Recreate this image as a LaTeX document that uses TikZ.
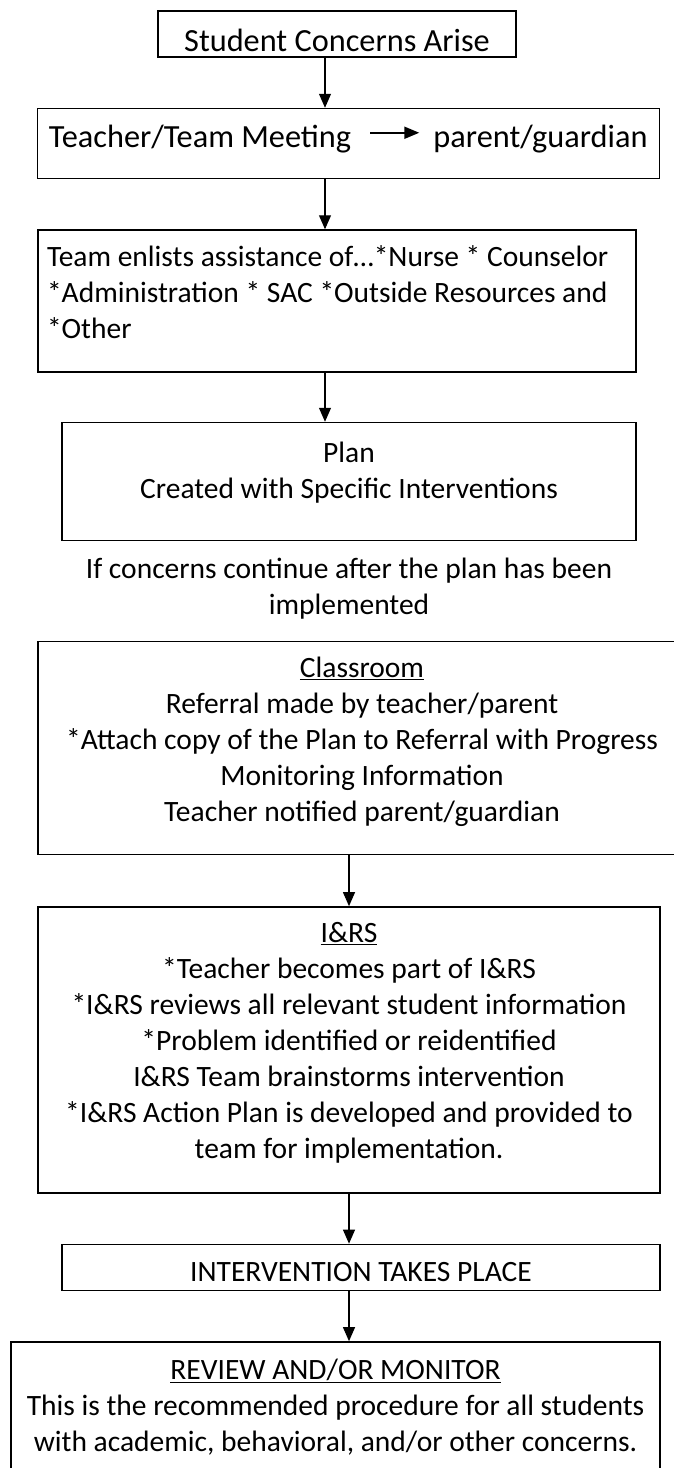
\documentclass[tikz,border=0pt]{standalone}
\usepackage{fontspec}
\setmainfont{Carlito}
\usetikzlibrary{arrows.meta,positioning,calc}
\def \bodyFont {\fontsize{29.5pt}{36pt}\selectfont}
\def \headFont {\fontsize{32.3pt}{38pt}\selectfont}
\def \spineShift {-12pt}
\tikzset{
 	block/.style= {draw, rectangle, line width=1.5pt, align=flush center, inner sep=0pt, font=\bodyFont},
 	plaintext/.style= {draw=none, align=flush center, inner sep=0pt, font=\bodyFont},
 	flow/.style= {-{Triangle[length=14pt,width=12pt]}, line width=1.1pt},
 	inline/.style= {-{Triangle[length=15pt,width=12pt]}, line width=2pt}
 }
\begin{document}
\begin{tikzpicture}[x=1pt,y=1pt]
\useasboundingbox (0,0) rectangle (674,-1468);

%%%%%%%%%%%%%%%%%%%%% Nodes %%%%%%%%%%%%%%%%%%%%%
	\node [block, font=\headFont, minimum width=358pt, text height=40pt, text depth=6pt] (concern) at (337,-34) {Student Concerns Arise};

	\node [block, minimum width=622pt, minimum height=70pt, below=50pt of concern, xshift=11.5pt] (teammeet) {};
	\node [plaintext, font=\headFont, anchor=base west] (meeting) at ($(teammeet.north west)+(12,-40)$) {Teacher/Team Meeting};
	\node [plaintext, font=\headFont, base right=82pt of meeting] (guardian) {parent/guardian};

	\node [block, text width=580pt, align=flush left, inner xsep=9pt, text height=36pt, text depth=106pt, below=50pt of teammeet, xshift=-11.5pt] (enlist) {Team enlists assistance of…*Nurse * Counselor\\{}*Administration * SAC *Outside Resources and\\{}*Other};

	\node [block, text width=574pt, text height=40pt, text depth=78pt, below=49pt of enlist, xshift=12pt] (plan) {Plan\\Created with Specific Interventions};

	\node [plaintext, text width=574pt, text height=22pt, text depth=42pt, below=15pt of plan] (ifcont) {If concerns continue after the plan has been\\implemented};

	\node [block, text width=648pt, text height=36pt, text depth=177pt, below=20pt of ifcont, xshift=13pt] (classroom) {\underline{Classroom}\\Referral made by teacher/parent\\{}*Attach copy of the Plan to Referral with Progress\\Monitoring Information\\Teacher notified parent/guardian};

	\node [block, text width=622pt, text height=36pt, text depth=250pt, below=51pt of classroom, xshift=-13pt] (irs) {\underline{I\&RS}\\{}*Teacher becomes part of I\&RS\\{}*I\&RS reviews all relevant student information\\{}*Problem identified or reidentified\\I\&RS Team brainstorms intervention\\{}*I\&RS Action Plan is developed and provided to\\team for implementation.};

	\node [block, minimum width=598pt, text height=37pt, text depth=9pt, below=50pt of irs, xshift=12pt] (intervene) {INTERVENTION TAKES PLACE};

	\node [block, text width=649pt, text height=38pt, text depth=111pt, below=50pt of intervene, xshift=-25.5pt] (review) {\underline{REVIEW AND/OR MONITOR}\\This is the recommended procedure for all students\\with academic, behavioral, and/or other concerns.};

%%%%%%%%%%%%%%%%%%%%% Links %%%%%%%%%%%%%%%%%%%%%
	\coordinate (spine) at ([xshift=\spineShift]concern.south);
	\draw [inline, shorten <=19pt, shorten >=14pt] ([yshift=15pt]meeting.base east) -- ([yshift=15pt]guardian.base west);
	\draw [flow] (concern.south -| spine) -- (teammeet.north -| spine);
	\draw [flow] (teammeet.south -| spine) -- (enlist.north -| spine);
	\draw [flow] (enlist.south -| spine) -- (plan.north -| spine);
	\draw [flow] (classroom.south -| irs.center) -- (irs.north);
	\draw [flow] (irs.south) -- (intervene.north -| irs.south);
	\draw [flow] (intervene.south -| irs.south) -- (review.north -| irs.south);

\end{tikzpicture}
\end{document}
